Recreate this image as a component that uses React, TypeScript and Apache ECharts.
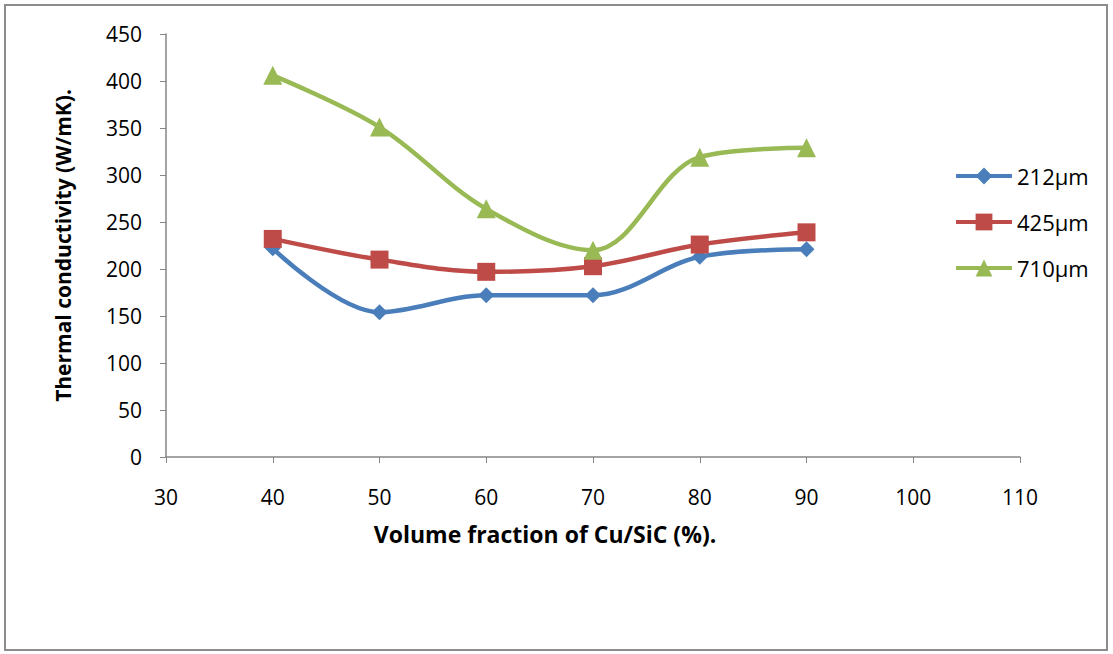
import React, { useEffect, useRef } from "react";
import * as echarts from "echarts";

const xValues = [40, 50, 60, 70, 80, 90];
const s212 = [222, 154, 172, 172, 213, 221];
const s425 = [232, 210, 197, 203, 226, 239];
const s710 = [406, 351, 264, 220, 319, 329];
const seriesNames = ["212µm", "425µm", "710µm"];

const FONT = "'Open Sans', 'Noto Sans', sans-serif";

export default function App() {
  const ref = useRef<HTMLDivElement>(null);
  useEffect(() => {
    if (!ref.current) return;
    const chart = echarts.init(ref.current, undefined, { renderer: "svg" });
    const mk = (vals: number[]) => xValues.map((x, i) => [x, vals[i]]);
    const common = {
      type: "line" as const,
      smooth: 0.35,
    };
    chart.setOption({
      animation: false,
      backgroundColor: "#ffffff",
      textStyle: { fontFamily: FONT },
      grid: { left: 166, right: 93, top: 34, bottom: 197 },
      graphic: [
        {
          type: "rect",
          shape: { x: 5, y: 5, width: 1102, height: 645 },
          style: { fill: "none", stroke: "#8c8c8c", lineWidth: 2 },
          silent: true,
        },
      ],
      legend: {
        orient: "vertical",
        left: 949,
        top: 160,
        itemGap: 24,
        itemWidth: 56,
        itemHeight: 21,
        lineStyle: { width: 4 },
        textStyle: { fontSize: 22, color: "#000", fontFamily: FONT },
        data: seriesNames,
      },
      xAxis: {
        type: "value",
        min: 30,
        max: 110,
        interval: 10,
        name: "Volume fraction of Cu/SiC (%).",
        nameLocation: "middle",
        nameGap: 65,
        nameTextStyle: {
          fontSize: 23,
          fontWeight: "bold",
          color: "#000",
          fontFamily: FONT,
          padding: [0, 96, 0, 0],
        },
        axisLine: { lineStyle: { color: "#868686", width: 1.5 } },
        axisTick: { show: true, inside: false, length: 6, lineStyle: { color: "#868686" } },
        axisLabel: { fontSize: 21, color: "#000", margin: 29, fontFamily: FONT },
        splitLine: { show: false },
      },
      yAxis: {
        type: "value",
        min: 0,
        max: 450,
        interval: 50,
        name: "Thermal conductivity (W/mK).",
        nameLocation: "middle",
        nameGap: 93,
        nameRotate: 90,
        nameTextStyle: { fontSize: 21, fontWeight: "bold", color: "#000", fontFamily: FONT },
        axisLine: { show: true, lineStyle: { color: "#868686", width: 1.5 } },
        axisTick: { show: true, inside: false, length: 6, lineStyle: { color: "#868686" } },
        axisLabel: { fontSize: 21, color: "#000", margin: 24, fontFamily: FONT },
        splitLine: { show: false },
      },
      series: [
        {
          ...common,
          name: seriesNames[0],
          data: mk(s212),
          symbol: "diamond",
          symbolSize: 16,
          itemStyle: { color: "#4a7ebb" },
          lineStyle: { width: 4.5, color: "#4a7ebb" },
        },
        {
          ...common,
          name: seriesNames[1],
          data: mk(s425),
          symbol: "rect",
          symbolSize: 18,
          itemStyle: { color: "#be4b48" },
          lineStyle: { width: 4.5, color: "#be4b48" },
        },
        {
          ...common,
          name: seriesNames[2],
          data: mk(s710),
          symbol: "triangle",
          symbolSize: 19,
          itemStyle: { color: "#98b954" },
          lineStyle: { width: 4.5, color: "#98b954" },
        },
      ],
    });
    return () => chart.dispose();
  }, []);
  return (
    <div
      ref={ref}
      style={{ position: "absolute", left: 0, top: 0, width: 1113, height: 654 }}
    />
  );
}
